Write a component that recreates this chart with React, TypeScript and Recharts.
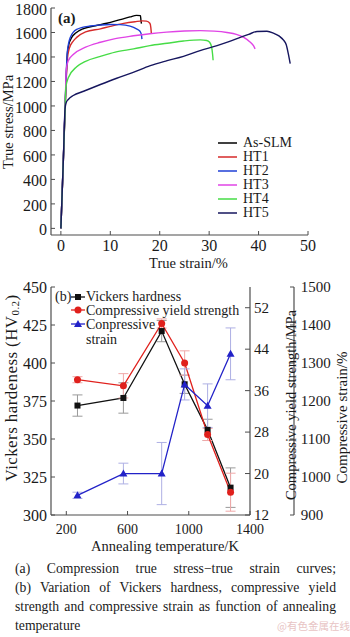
import React from 'react';
import { LineChart, ComposedChart, Line, XAxis, YAxis, ErrorBar } from 'recharts';

const SERIF = '"Liberation Serif", "Times New Roman", Times, serif';
const INK = '#1a1a1a';
const AXIS = '#4d4d4d';

// ---------- (a) Compression true stress–true strain curves: [strain %, stress MPa]
const asSlmCurve: [number, number][] = [
  [0, 0], [0.5, 560], [1.0, 1150], [1.3, 1420], [1.6, 1500], [2.2, 1560], [3.0, 1595], [4.6, 1632],
  [7, 1655], [9.3, 1675], [12, 1705], [14, 1727], [15.3, 1740], [16.1, 1738], [16.2, 1700], [16.3, 1672],
];
const ht1Curve: [number, number][] = [
  [0, 0], [0.5, 560], [1.0, 1130], [1.3, 1380], [1.7, 1470], [2.5, 1530], [3.2, 1560], [5, 1605],
  [8, 1630], [10, 1650], [12.7, 1674], [15, 1688], [16.5, 1695], [17.3, 1693], [18.0, 1675], [18.2, 1640], [18.3, 1595],
];
const ht2Curve: [number, number][] = [
  [0, 0], [0.5, 570], [1.0, 1170], [1.3, 1440], [1.9, 1560], [3.2, 1626], [5.9, 1653], [8, 1661],
  [10, 1665], [12, 1664], [14, 1652], [15.3, 1630], [16.0, 1610], [16.3, 1580], [16.4, 1546],
];
const ht3Curve: [number, number][] = [
  [0, 0], [0.5, 560], [0.9, 1050], [1.1, 1300], [1.5, 1370], [2.5, 1420], [5, 1480], [8, 1520],
  [11, 1550], [14.7, 1573], [18, 1590], [21.4, 1603], [25, 1612], [28.2, 1615], [31, 1611], [33.6, 1600],
  [35.5, 1585], [37.0, 1560], [38.2, 1525], [39.0, 1490], [39.3, 1466],
];
const ht4Curve: [number, number][] = [
  [0, 0], [0.5, 560], [0.85, 960], [1.0, 1150], [1.5, 1230], [3.2, 1320], [5, 1365], [8, 1405],
  [11, 1440], [14.7, 1466], [18, 1493], [21.5, 1512], [24.8, 1530], [28.2, 1540], [29.5, 1535],
  [30.1, 1520], [30.5, 1480], [30.7, 1420], [30.8, 1373],
];
const ht5Curve: [number, number][] = [
  [0, 0], [0.5, 560], [0.85, 980], [1.1, 1030], [1.5, 1053], [2.5, 1085], [4.6, 1120], [8, 1175],
  [11.3, 1226], [14.5, 1272], [18.1, 1330], [21.5, 1370], [24.8, 1405], [28, 1450], [31.6, 1493],
  [34, 1525], [36.3, 1560], [38, 1585], [39.7, 1608], [41.7, 1610], [43, 1595], [44.2, 1570],
  [45.1, 1535], [45.6, 1500], [46.0, 1430], [46.4, 1346],
];
const curveNames = ['As-SLM', 'HT1', 'HT2', 'HT3', 'HT4', 'HT5'];
const curveColors = ['#000000', '#d62a2a', '#1f3fd6', '#e044e6', '#46dc46', '#16165e'];
const curveSets = [asSlmCurve, ht1Curve, ht2Curve, ht3Curve, ht4Curve, ht5Curve];
const strainTicks = [0, 10, 20, 30, 40, 50];
const stressTicks = [0, 200, 400, 600, 800, 1000, 1200, 1400, 1600, 1800];

// ---------- (b) Properties vs annealing temperature
const annealTemps = [273, 573, 823, 973, 1123, 1273];
const hardness = [372, 377, 421, 386, 356, 318];
const hardnessErr = [7, 10, 7, 6, 7, 13];
const yieldStrength = [1256, 1240, 1404, 1300, 1112, 960];
const yieldErr = [8, 32, 12, 32, 16, 50];
const compStrain = [15.8, 20.0, 20.0, 37.2, 33.1, 43.1];
const compStrainErr = [0.6, 2, 6, 3, 4.2, 5];
const tempTicks = [200, 600, 1000, 1400];
const hvTicks = [300, 325, 350, 375, 400, 425, 450];
const ysTicks = [900, 1000, 1100, 1200, 1300, 1400, 1500];
const csTicks = [12, 20, 28, 36, 44, 52];
const propNames = ['Vickers hardness', 'Compressive yield strength', 'Conpressive strain'];
const propColors = ['#111111', '#e0201c', '#2222c8'];

const curves = curveSets.map((pts, i) => ({
  name: curveNames[i],
  color: curveColors[i],
  data: pts.map(([strain, stress]) => ({ strain, stress })),
}));

const propRows = annealTemps.map((T, i) => ({
  T,
  hv: hardness[i],
  hvErr: hardnessErr[i],
  ys: yieldStrength[i],
  ysErr: yieldErr[i],
  cs: compStrain[i],
  csErr: compStrainErr[i],
}));

type TickOpts = { size: number; dx?: number; dy?: number; ls?: number };
const makeTick = (o: TickOpts) => (p: any) => (
  <text
    x={p.x + (o.dx || 0)}
    y={p.y + (o.dy || 0)}
    textAnchor={p.textAnchor}
    fontFamily={SERIF}
    fontSize={o.size}
    fill={INK}
    style={{ letterSpacing: o.ls ? `${o.ls}px` : undefined }}
  >
    {p.payload.value}
  </text>
);

function AxisTitle(props: any) {
  const { px, py, size, rotate, ls, text } = props;
  return (
    <text
      x={px}
      y={py}
      transform={rotate ? `rotate(${rotate} ${px} ${py})` : undefined}
      textAnchor="middle"
      dominantBaseline="central"
      fontFamily={SERIF}
      fontSize={size}
      fill={INK}
      style={{ letterSpacing: ls ? `${ls}px` : undefined }}
    >
      {text}
    </text>
  );
}

const Square = (p: any) => (
  <rect key={`sq-${p.index}`} x={p.cx - 3} y={p.cy - 3} width={6} height={6} fill={propColors[0]} />
);
const Dot = (p: any) => <circle key={`ci-${p.index}`} cx={p.cx} cy={p.cy} r={3.5} fill={propColors[1]} />;
const Tri = (p: any) => (
  <path
    key={`tr-${p.index}`}
    d={`M${p.cx},${p.cy - 4} L${p.cx + 4},${p.cy + 3} L${p.cx - 4},${p.cy + 3} Z`}
    fill={propColors[2]}
  />
);

const axisLine = { stroke: AXIS, strokeWidth: 1.2 };
const tickLine = { stroke: AXIS, strokeWidth: 1 };

function ChartA() {
  return (
    <LineChart width={350} height={275} margin={{ top: 8, right: 42, bottom: 0, left: 0 }}>
      <XAxis
        dataKey="strain"
        type="number"
        domain={[-2, 50]}
        ticks={strainTicks}
        interval={0}
        allowDataOverflow
        height={40}
        tickSize={-4}
        tickMargin={0}
        tick={makeTick({ size: 16, dy: 20 })}
        axisLine={axisLine}
        tickLine={tickLine}
        label={<AxisTitle px={188.5} py={263} size={14.5} text="True strain/%" />}
      />
      <XAxis xAxisId="top" orientation="top" type="number" domain={[0, 1]} height={0} tick={false} tickLine={false} axisLine={axisLine} />
      <YAxis
        type="number"
        domain={[-54, 1800]}
        ticks={stressTicks}
        interval={0}
        allowDataOverflow
        width={51}
        tickSize={-4}
        tickMargin={0}
        tick={makeTick({ size: 16, dx: -8, dy: 6.6 })}
        axisLine={axisLine}
        tickLine={tickLine}
        label={<AxisTitle px={7.5} py={122} size={14.5} rotate={-90} text="True stress/MPa" />}
      />
      <YAxis yAxisId="right" orientation="right" type="number" domain={[0, 1]} width={0} tick={false} tickLine={false} axisLine={axisLine} />
      {curves.map((c) => (
        <Line
          key={c.name}
          data={c.data}
          dataKey="stress"
          name={c.name}
          type="monotone"
          stroke={c.color}
          strokeWidth={1.4}
          dot={false}
          isAnimationActive={false}
        />
      ))}
    </LineChart>
  );
}

function ChartB() {
  return (
    <ComposedChart width={350} height={280} data={propRows} margin={{ top: 12, right: 0, bottom: 0, left: 0 }}>
      <XAxis
        dataKey="T"
        type="number"
        domain={[100, 1400]}
        ticks={tempTicks}
        interval={0}
        allowDataOverflow
        height={40}
        tickSize={-4}
        tickMargin={0}
        tick={makeTick({ size: 14, dy: 23 })}
        axisLine={axisLine}
        tickLine={tickLine}
        label={<AxisTitle px={165} py={270.5} size={14.5} text="Annealing temperature/K" />}
      />
      <XAxis xAxisId="top" orientation="top" type="number" domain={[0, 1]} height={0} tick={false} tickLine={false} axisLine={axisLine} />
      <YAxis
        yAxisId="hv"
        type="number"
        domain={[300, 450]}
        ticks={hvTicks}
        interval={0}
        allowDataOverflow
        width={51}
        tickSize={-4}
        tickMargin={0}
        tick={makeTick({ size: 16, dx: -8, dy: 5.5 })}
        axisLine={axisLine}
        tickLine={tickLine}
        label={
          <AxisTitle
            px={11}
            py={113}
            size={17}
            ls={0.4}
            rotate={-90}
            text={
              <>
                Vickers hardeness (HV
                <tspan fontSize={11} dy={4}>0.2</tspan>
                <tspan dy={-4}>)</tspan>
              </>
            }
          />
        }
      />
      <YAxis
        yAxisId="ys"
        orientation="right"
        type="number"
        domain={[900, 1500]}
        ticks={ysTicks}
        interval={0}
        allowDataOverflow
        width={56}
        tickSize={-4}
        tickMargin={0}
        tick={makeTick({ size: 15, dx: 10.7, dy: 4.5 })}
        axisLine={axisLine}
        tickLine={tickLine}
        label={<AxisTitle px={291} py={130} size={14.5} rotate={-90} text="Compressive yield strength/MPa" />}
      />
      <YAxis
        yAxisId="cs"
        orientation="right"
        type="number"
        domain={[12, 56]}
        ticks={csTicks}
        interval={0}
        allowDataOverflow
        width={44}
        tickSize={-5}
        tickMargin={0}
        tick={makeTick({ size: 15, dx: 9, dy: 5.2 })}
        axisLine={axisLine}
        tickLine={tickLine}
        label={<AxisTitle px={342} py={142.5} size={15} rotate={-90} text="Compressive strain/%" />}
      />
      <Line yAxisId="hv" dataKey="hv" name={propNames[0]} type="linear" stroke={propColors[0]} strokeWidth={1.3} dot={Square} isAnimationActive={false}>
        <ErrorBar dataKey="hvErr" direction="y" width={5} stroke="#9a9a9a" strokeWidth={1} />
      </Line>
      <Line yAxisId="ys" dataKey="ys" name={propNames[1]} type="linear" stroke={propColors[1]} strokeWidth={1.3} dot={Dot} isAnimationActive={false}>
        <ErrorBar dataKey="ysErr" direction="y" width={5} stroke="#f0a8a8" strokeWidth={1} />
      </Line>
      <Line yAxisId="cs" dataKey="cs" name={propNames[2]} type="linear" stroke={propColors[2]} strokeWidth={1.3} dot={Tri} isAnimationActive={false}>
        <ErrorBar dataKey="csErr" direction="y" width={5} stroke="#aeb0e4" strokeWidth={1} />
      </Line>
    </ComposedChart>
  );
}

const LegendA = () => (
  <div style={{ position: 'absolute', left: 218, top: 136, fontFamily: SERIF, fontSize: 14, color: INK }}>
    {curves.map((c) => (
      <div key={c.name} style={{ display: 'flex', alignItems: 'center', height: 14, lineHeight: '14px' }}>
        <svg width={19} height={14} style={{ display: 'block' }}>
          <line x1={0} y1={7} x2={19} y2={7} stroke={c.color} strokeWidth={1.5} />
        </svg>
        <span style={{ marginLeft: 6, whiteSpace: 'nowrap' }}>{c.name}</span>
      </div>
    ))}
  </div>
);

const markers = [
  (cx: number, cy: number) => <rect x={cx - 3} y={cy - 3} width={6} height={6} fill={propColors[0]} />,
  (cx: number, cy: number) => <circle cx={cx} cy={cy} r={3.5} fill={propColors[1]} />,
  (cx: number, cy: number) => (
    <path d={`M${cx},${cy - 4} L${cx + 4},${cy + 3} L${cx - 4},${cy + 3} Z`} fill={propColors[2]} />
  ),
];

// legend rows (b): centre y of each text line
const legendBRows = [296.7, 310.3, 324];
const LegendB = () => {
  const lineStyle: React.CSSProperties = { position: 'absolute', left: 86, height: 13, lineHeight: '13px', whiteSpace: 'nowrap' };
  return (
    <div style={{ position: 'absolute', left: 0, top: 0, fontFamily: SERIF, fontSize: 14, color: INK }}>
      <span style={{ position: 'absolute', left: 55, top: legendBRows[0] - 6.5, height: 13, lineHeight: '13px' }}>(b)</span>
      {propNames.map((n, i) => {
        const cy = legendBRows[i];
        const parts = i === 2 ? ['Conpressive', 'strain'] : [n];
        return (
          <React.Fragment key={n}>
            <svg width={14} height={10} style={{ position: 'absolute', left: 71, top: cy - 5, display: 'block' }}>
              <line x1={0} y1={5} x2={14} y2={5} stroke={propColors[i]} strokeWidth={1.3} />
              {markers[i](7, 5)}
            </svg>
            {parts.map((t, k) => (
              <span key={t} style={{ ...lineStyle, top: cy - 6.5 + k * 15.3 }}>
                {t}
              </span>
            ))}
          </React.Fragment>
        );
      })}
    </div>
  );
};

const captionLines = [
  '(a) Compression true stress\u2212true strain curves;',
  '(b) Variation of Vickers hardness, compressive yield',
  'strength and compressive strain as function of annealing',
];

export default function App() {
  return (
    <div style={{ position: 'relative', width: 350, height: 637, background: '#fff', overflow: 'hidden' }}>
      <style>{'body{margin:0;background:#fff}'}</style>
      <div style={{ position: 'absolute', left: 0, top: 0 }}>
        <ChartA />
      </div>
      <div
        style={{ position: 'absolute', left: 58, top: 9, fontFamily: SERIF, fontSize: 15, fontWeight: 'bold', color: INK, lineHeight: '18px' }}
      >
        (a)
      </div>
      <LegendA />
      <div style={{ position: 'absolute', left: 0, top: 275 }}>
        <ChartB />
      </div>
      <LegendB />
      <div
        style={{ position: 'absolute', left: 15, top: 558.5, width: 321, fontFamily: SERIF, fontSize: 13.7, color: INK, lineHeight: '19px' }}
      >
        {captionLines.map((l) => (
          <div key={l} style={{ textAlign: 'justify', textAlignLast: 'justify' }}>
            {l}
          </div>
        ))}
        <div style={{ textAlign: 'left' }}>temperature</div>
      </div>
      <div
        style={{
          position: 'absolute',
          left: 277,
          top: 618,
          fontFamily: '"Noto Sans CJK SC", sans-serif',
          fontSize: 10.5,
          color: '#e8c4c4',
          whiteSpace: 'nowrap',
        }}
      >
        @有色金属在线
      </div>
    </div>
  );
}
